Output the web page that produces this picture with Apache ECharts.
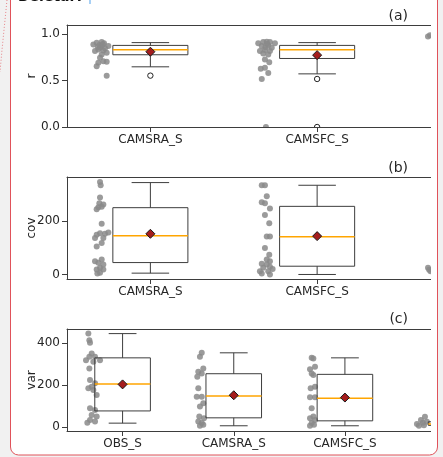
<!DOCTYPE html>
<html>
<head>
<meta charset="utf-8">
<script src="https://cdn.jsdelivr.net/npm/echarts@6/dist/echarts.min.js"></script>
<style>
  html, body { margin: 0; padding: 0; background: #ffffff; }
  #chart { width: 443px; height: 457px; }
</style>
</head>
<body>
<div id="chart"></div>
<script>
// ---- category names per panel ----
const rNames = ['CAMSRA_S', 'CAMSFC_S'];
const covNames = ['CAMSRA_S', 'CAMSFC_S'];
const varNames = ['OBS_S', 'CAMSRA_S', 'CAMSFC_S'];

// ---- y tick values ----
const rTicks = [0, 0.5, 1.0];
const covTicks = [0, 200];
const varTicks = [0, 200, 400];

// ---- box statistics: [position, whiskerLow, q1, median, q3, whiskerHigh] ----
const rBoxes = [
  [1, 0.649, 0.779, 0.834, 0.880, 0.910],
  [2, 0.573, 0.739, 0.834, 0.880, 0.910]
];
const covBoxes = [
  [1, 5, 44.7, 145, 250.8, 345],
  [2, 0, 31, 141.5, 255.8, 335]
];
const varBoxes = [
  [1, 17.6, 76, 205, 330, 446],
  [2, 5, 43, 148, 254, 354],
  [3, 5, 28.6, 136.5, 251, 330],
  [4, 2, 7, 14, 24, 45]
];

// ---- means: [position, mean] ----
const rMeans = [[1, 0.812], [2, 0.775]];
const covMeans = [[1, 152.7], [2, 144]];
const varMeans = [[1, 203], [2, 151], [3, 140], [4, 18]];

// ---- outliers: [position, value] ----
const rFliers = [[1, 0.554], [2, 0.518], [2, 0.0]];
const covFliers = [];
const varFliers = [];

// ---- individual stations, drawn as a strip left of each box: [position, value] ----
const rPoints = [
  [0.658, 0.891], [0.678, 0.909], [0.708, 0.917], [0.722, 0.902], [0.748, 0.873],
  [0.698, 0.855], [0.668, 0.819], [0.688, 0.837], [0.718, 0.826], [0.738, 0.801],
  [0.708, 0.783], [0.698, 0.746], [0.718, 0.710], [0.688, 0.692], [0.738, 0.705],
  [0.678, 0.655], [0.738, 0.554], [0.705, 0.870], [0.728, 0.850], [0.685, 0.862],
  [0.695, 0.885], [0.715, 0.890],
  [1.647, 0.902], [1.677, 0.917], [1.698, 0.920], [1.717, 0.917], [1.747, 0.902],
  [1.668, 0.873], [1.707, 0.880], [1.728, 0.855], [1.657, 0.819], [1.687, 0.830],
  [1.717, 0.819], [1.677, 0.793], [1.707, 0.783], [1.687, 0.728], [1.713, 0.699],
  [1.662, 0.627], [1.687, 0.638], [1.707, 0.583], [1.668, 0.518], [1.693, 0.0],
  [1.700, 0.895], [1.690, 0.860],
  [2.665, 0.975], [2.677, 0.990]
];
const covPoints = [
  [0.698, 347], [0.702, 335], [0.698, 289], [0.694, 267], [0.718, 263], [0.688, 252],
  [0.708, 254], [0.678, 245], [0.708, 190], [0.678, 149], [0.698, 155], [0.728, 153],
  [0.748, 158], [0.668, 137], [0.718, 137], [0.678, 105], [0.708, 118], [0.668, 50],
  [0.708, 56], [0.688, 44], [0.718, 37], [0.698, 25], [0.678, 19], [0.718, 19],
  [0.698, 6], [0.682, 4],
  [1.668, 335], [1.687, 335], [1.698, 294], [1.668, 271], [1.687, 267], [1.717, 248],
  [1.687, 223], [1.713, 192], [1.698, 143], [1.717, 143], [1.687, 99], [1.713, 74],
  [1.698, 56], [1.717, 50], [1.668, 40], [1.698, 37], [1.677, 25], [1.717, 29],
  [1.733, 21], [1.657, 12], [1.707, 12], [1.717, 0], [1.668, 4],
  [2.665, 25], [2.680, 12], [2.672, 18]
];
const varPoints = [
  [0.692, 446], [0.701, 414], [0.707, 402], [0.722, 351], [0.701, 335], [0.671, 319],
  [0.752, 335], [0.797, 319], [0.737, 311], [0.701, 279], [0.707, 224], [0.752, 208],
  [0.722, 192], [0.692, 184], [0.737, 176], [0.767, 152], [0.707, 89], [0.752, 81],
  [0.722, 57], [0.767, 49], [0.707, 33], [0.752, 25], [0.683, 20],
  [1.712, 354], [1.696, 335], [1.681, 263], [1.712, 255], [1.726, 279], [1.672, 240],
  [1.681, 184], [1.667, 144], [1.712, 144], [1.726, 113], [1.696, 97], [1.690, 49],
  [1.732, 41], [1.681, 25], [1.712, 18], [1.696, 5], [1.726, 10],
  [2.701, 330], [2.716, 327], [2.686, 275], [2.731, 287], [2.716, 248], [2.701, 255],
  [2.731, 192], [2.692, 184], [2.686, 141], [2.731, 141], [2.701, 89], [2.716, 49],
  [2.686, 41], [2.731, 33], [2.701, 18], [2.686, 5], [2.722, 10],
  [3.648, 14], [3.684, 33], [3.720, 48], [3.702, 19], [3.666, 5], [3.738, 24], [3.711, 8]
];

// ---- styling ----
const FONT = 'DejaVu Sans';
const TEXT = '#262626';
const EDGE = '#3d3d3d';
const MEDIAN = '#ffa500';
const POINT = '#8a8a8a';
const MEAN = '#a51d1d';
const OUTSIDE = '#f1f1f1';
const BORDER = '#e0525a';

const panels = [
  { top: 25, xmax: 4.5, half: 0.225, ymin: 0, ymax: 1.1, ticks: rTicks,
    fmt: v => Number(v).toFixed(1), yName: 'r', names: rNames,
    boxes: rBoxes, means: rMeans, fliers: rFliers, points: rPoints, tag: '(a)', tagY: 16 },
  { top: 177, xmax: 4.5, half: 0.225, ymin: -17, ymax: 366, ticks: covTicks,
    fmt: v => String(v), yName: 'cov', names: covNames,
    boxes: covBoxes, means: covMeans, fliers: covFliers, points: covPoints, tag: '(b)', tagY: 168 },
  { top: 329, xmax: 6.5, half: 0.25, ymin: -20, ymax: 468, ticks: varTicks,
    fmt: v => String(v), yName: 'var', names: varNames,
    boxes: varBoxes, means: varMeans, fliers: varFliers, points: varPoints, tag: '(c)', tagY: 319 }
];

function boxRenderer(half) {
  return function (params, api) {
    const p = api.value(0);
    const lo = api.value(1), q1 = api.value(2), md = api.value(3), q3 = api.value(4), hi = api.value(5);
    const pt = (x, y) => api.coord([x, y]);
    const seg = (a, b, color, w) => ({
      type: 'line',
      shape: { x1: a[0], y1: a[1], x2: b[0], y2: b[1] },
      style: { stroke: color || EDGE, lineWidth: w || 1 }
    });
    const tl = pt(p - half, q3), br = pt(p + half, q1);
    return {
      type: 'group',
      children: [
        { type: 'rect',
          shape: { x: tl[0], y: tl[1], width: br[0] - tl[0], height: br[1] - tl[1] },
          style: { fill: 'none', stroke: EDGE, lineWidth: 1 } },
        seg(pt(p, q3), pt(p, hi)),
        seg(pt(p, q1), pt(p, lo)),
        seg(pt(p - half / 2, hi), pt(p + half / 2, hi)),
        seg(pt(p - half / 2, lo), pt(p + half / 2, lo)),
        seg(pt(p - half, md), pt(p + half, md), MEDIAN, 1.5)
      ]
    };
  };
}

function dotRenderer(r, fill, stroke, opacity) {
  return function (params, api) {
    const c = api.coord([api.value(0), api.value(1)]);
    return {
      type: 'circle',
      shape: { cx: c[0], cy: c[1], r: r },
      style: { fill: fill, stroke: stroke || null, lineWidth: stroke ? 1 : 0, opacity: opacity }
    };
  };
}

const grid = [], xAxis = [], yAxis = [], series = [];
panels.forEach((pn, g) => {
  grid.push({ left: 67, top: pn.top, width: 667, height: 102, outerBoundsMode: 'none' });
  const labelValues = pn.names.map((_, i) => i + 1);
  xAxis.push({
    type: 'value', gridIndex: g, position: 'bottom', min: 0.5, max: pn.xmax,
    axisLine: { show: true, onZero: false, lineStyle: { color: EDGE, width: 1 } },
    axisTick: { show: true, length: 5, customValues: labelValues, lineStyle: { color: EDGE } },
    axisLabel: { show: true, customValues: labelValues, margin: 7,
      formatter: v => pn.names[Math.round(v) - 1] || '',
      fontFamily: FONT, fontSize: 12, color: TEXT },
    splitLine: { show: false }
  });
  xAxis.push({
    type: 'value', gridIndex: g, position: 'top', min: 0.5, max: pn.xmax,
    axisLine: { show: true, onZero: false, lineStyle: { color: EDGE, width: 1 } },
    axisTick: { show: false }, axisLabel: { show: false }, splitLine: { show: false }
  });
  yAxis.push({
    type: 'value', gridIndex: g, min: pn.ymin, max: pn.ymax,
    name: pn.yName, nameLocation: 'middle', nameGap: 29, nameMoveOverlap: false,
    nameTextStyle: { fontFamily: FONT, fontSize: 12, color: TEXT },
    axisLine: { show: true, onZero: false, lineStyle: { color: EDGE, width: 1 } },
    axisTick: { show: true, length: 5, customValues: pn.ticks, lineStyle: { color: EDGE } },
    axisLabel: { show: true, customValues: pn.ticks, margin: 7, formatter: pn.fmt,
      fontFamily: FONT, fontSize: 12, color: TEXT },
    splitLine: { show: false }
  });

  series.push({
    type: 'custom', name: pn.yName + ' stations', xAxisIndex: 2 * g, yAxisIndex: g,
    clip: true, z: 2, silent: true,
    encode: { x: 0, y: 1 }, data: pn.points,
    renderItem: dotRenderer(3, POINT, null, 0.85)
  });
  series.push({
    type: 'custom', name: pn.yName + ' boxes', xAxisIndex: 2 * g, yAxisIndex: g,
    clip: true, z: 3, silent: true,
    encode: { x: 0, y: [1, 2, 3, 4, 5] }, data: pn.boxes,
    renderItem: boxRenderer(pn.half)
  });
  series.push({
    type: 'custom', name: pn.yName + ' outliers', xAxisIndex: 2 * g, yAxisIndex: g,
    clip: true, z: 4, silent: true,
    encode: { x: 0, y: 1 }, data: pn.fliers,
    renderItem: dotRenderer(2.7, '#ffffff', '#222222', 1)
  });
  series.push({
    type: 'scatter', name: pn.yName + ' mean', xAxisIndex: 2 * g, yAxisIndex: g,
    z: 5, silent: true, symbol: 'diamond', symbolSize: 9,
    itemStyle: { color: MEAN, borderColor: '#1a1a1a', borderWidth: 1, opacity: 1 },
    data: pn.means
  });
});

const graphic = [
  // white strip where the figure image ends inside the card
  { type: 'rect', z: 100, silent: true,
    shape: { x: 431, y: 0, width: 7, height: 448 }, style: { fill: '#ffffff' } },
  // page background around the rounded card
  { type: 'rect', z: 101, silent: true,
    shape: { x: -9.5, y: -40, width: 467, height: 515, r: 28 },
    style: { fill: 'none', stroke: OUTSIDE, lineWidth: 40 } },
  // card outline
  { type: 'rect', z: 102, silent: true,
    shape: { x: 10.5, y: -20, width: 427, height: 475, r: 8 },
    style: { fill: 'none', stroke: BORDER, lineWidth: 1 } },
  // dotted guide on the far left
  { type: 'polyline', z: 103, silent: true,
    shape: { points: [[7, 0], [4.5, 25], [2, 50], [0, 72]] },
    style: { stroke: BORDER, lineWidth: 1, lineDash: [1, 2], opacity: 0.7, fill: 'none' } },
  // heading of the card
  { type: 'text', z: 103, silent: true, x: 18, y: 4.5,
    style: { text: 'Deletar:', fill: '#111111', font: 'bold 14px "DejaVu Sans"',
      align: 'left', verticalAlign: 'bottom' } },
  { type: 'rect', z: 103, silent: true,
    shape: { x: 89, y: 0, width: 2, height: 4 }, style: { fill: '#a8d0f5' } }
];
panels.forEach(pn => {
  graphic.push({ type: 'text', z: 103, silent: true, x: 408, y: pn.tagY,
    style: { text: pn.tag, fill: TEXT, font: '14px "DejaVu Sans"',
      align: 'right', verticalAlign: 'middle' } });
});

const chart = echarts.init(document.getElementById('chart'), null, { renderer: 'canvas' });
chart.setOption({
  backgroundColor: '#ffffff',
  animation: false,
  grid: grid,
  xAxis: xAxis,
  yAxis: yAxis,
  series: series,
  graphic: graphic
});
</script>
</body>
</html>
